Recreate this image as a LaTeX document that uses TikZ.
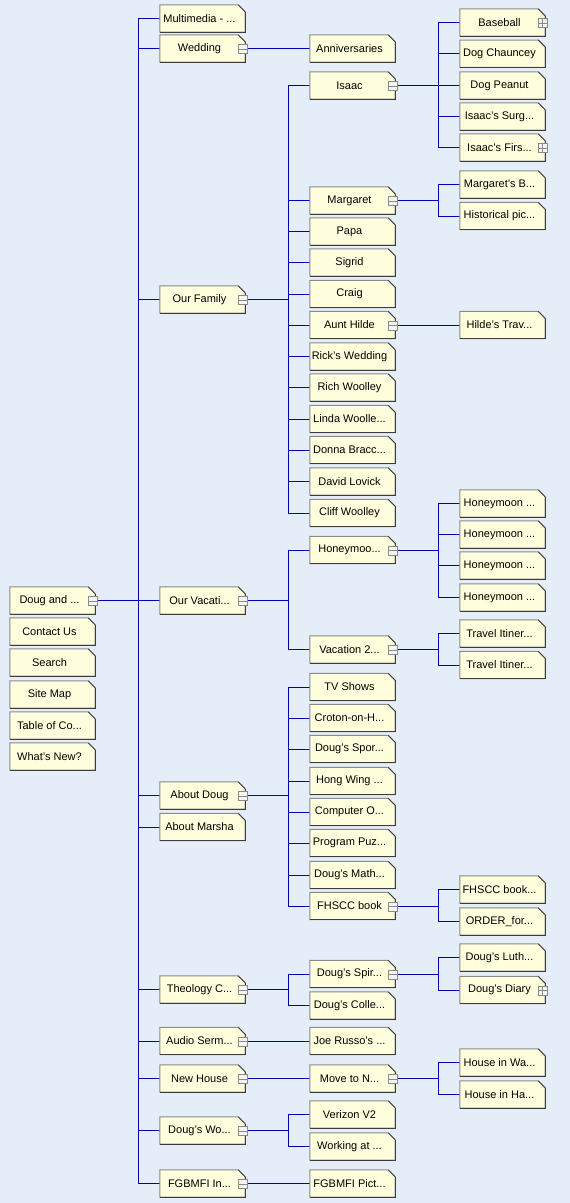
\documentclass[tikz,border=0pt]{standalone}
\usepackage{fontspec}
\setmainfont{Liberation Sans}
\usetikzlibrary{backgrounds}
\definecolor{bg}{HTML}{E5EEF8}
\definecolor{boxfill}{HTML}{FFFFDD}
\definecolor{wirec}{HTML}{0000B4}
\definecolor{edgelt}{HTML}{8A8A8A}
\definecolor{edgedk}{HTML}{3C3C3C}
\begin{document}
\begin{tikzpicture}[x=1pt,y=-1pt,
  page/.style={minimum width=85pt,minimum height=27pt,inner sep=0pt,
    font=\fontsize{11}{13}\selectfont,execute at begin node={\hspace*{-6pt}}},
  wire/.style={draw=wirec,line width=1pt}]
\useasboundingbox (0,0) rectangle (570,1203);
% column 0
\node[page] (d0) at (52.5,600.5) {Doug and ...};
\node[page] (contact) at (52.5,631.5) {Contact Us};
\node[page] (search) at (52.5,662.5) {Search};
\node[page] (sitemap) at (52.5,694.5) {Site Map};
\node[page] (toc) at (52.5,725.5) {Table of Co...};
\node[page] (new) at (52.5,756.5) {What's New?};
% column 1
\node[page] (mm) at (202.5,18.5) {Multimedia - ...};
\node[page] (wed) at (202.5,48.5) {Wedding};
\node[page] (fam) at (202.5,299.5) {Our Family};
\node[page] (vac) at (202.5,600.5) {Our Vacati...};
\node[page] (adoug) at (202.5,795.5) {About Doug};
\node[page] (amar) at (202.5,827) {About Marsha};
\node[page] (theo) at (202.5,989.5) {Theology C...};
\node[page] (audio) at (202.5,1041) {Audio Serm...};
\node[page] (house) at (202.5,1078.5) {New House};
\node[page] (work) at (202.5,1130.5) {Doug's Wo...};
\node[page] (fgb) at (202.5,1183.5) {FGBMFI In...};
% column 2
\node[page] (ann) at (352.5,48.5) {Anniversaries};
\node[page] (isaac) at (352.5,85.5) {Isaac};
\node[page] (marg) at (352.5,200.5) {Margaret};
\node[page] (papa) at (352.5,231.5) {Papa};
\node[page] (sigrid) at (352.5,262.5) {Sigrid};
\node[page] (craig) at (352.5,294) {Craig};
\node[page] (hilde) at (352.5,325) {Aunt Hilde};
\node[page] (rick) at (352.5,356.5) {Rick's Wedding};
\node[page] (rich) at (352.5,387.5) {Rich Woolley};
\node[page] (linda) at (352.5,419) {Linda Woolle...};
\node[page] (donna) at (352.5,450) {Donna Bracc...};
\node[page] (david) at (352.5,481.5) {David Lovick};
\node[page] (cliff) at (352.5,513) {Cliff Woolley};
\node[page] (honey) at (352.5,550) {Honeymoo...};
\node[page] (vac2) at (352.5,649.5) {Vacation 2...};
\node[page] (tv) at (352.5,687) {TV Shows};
\node[page] (croton) at (352.5,718) {Croton-on-H...};
\node[page] (sport) at (352.5,749) {Doug's Spor...};
\node[page] (hong) at (352.5,781) {Hong Wing ...};
\node[page] (comp) at (352.5,812) {Computer O...};
\node[page] (prog) at (352.5,843) {Program Puz...};
\node[page] (math) at (352.5,875) {Doug's Math...};
\node[page] (fhscc) at (352.5,906) {FHSCC book};
\node[page] (spir) at (352.5,974) {Doug's Spir...};
\node[page] (colle) at (352.5,1005.5) {Doug's Colle...};
\node[page] (joe) at (352.5,1041) {Joe Russo's ...};
\node[page] (move) at (352.5,1078.5) {Move to N...};
\node[page] (veri) at (352.5,1114.5) {Verizon V2};
\node[page] (workat) at (352.5,1146.5) {Working at ...};
\node[page] (fgbp) at (352.5,1183.5) {FGBMFI Pict...};
% column 3
\node[page] (base) at (502.5,22.5) {Baseball};
\node[page] (chaun) at (502.5,53.7) {Dog Chauncey};
\node[page] (peanut) at (502.5,85.5) {Dog Peanut};
\node[page] (surg) at (502.5,116.5) {Isaac's Surg...};
\node[page] (firs) at (502.5,147.5) {Isaac's Firs...};
\node[page] (margb) at (502.5,184.5) {Margaret's B...};
\node[page] (hist) at (502.5,216) {Historical pic...};
\node[page] (hildet) at (502.5,325) {Hilde's Trav...};
\node[page] (hm1) at (502.5,503.5) {Honeymoon ...};
\node[page] (hm2) at (502.5,534.5) {Honeymoon ...};
\node[page] (hm3) at (502.5,565.5) {Honeymoon ...};
\node[page] (hm4) at (502.5,597.5) {Honeymoon ...};
\node[page] (ti1) at (502.5,633.5) {Travel Itiner...};
\node[page] (ti2) at (502.5,665) {Travel Itiner...};
\node[page] (fb1) at (502.5,889.5) {FHSCC book...};
\node[page] (ord) at (502.5,921.5) {ORDER\_for...};
\node[page] (luth) at (502.5,957.5) {Doug's Luth...};
\node[page] (diary) at (502.5,990) {Doug's Diary};
\node[page] (hw) at (502.5,1062.5) {House in Wa...};
\node[page] (hh) at (502.5,1094.5) {House in Ha...};
\begin{pgfonlayer}{background}
  \fill[bg] (0,0) rectangle (570,1203);
  % connectors
  \foreach \c in {mm,wed,fam,vac,adoug,amar,theo,audio,house,work,fgb}
    \draw[wire] (d0.east) -- ++(43,0) |- (\c.west);
  \draw[wire] (wed.east) -- (ann.west);
  \foreach \c in {isaac,marg,papa,sigrid,craig,hilde,rick,rich,linda,donna,david,cliff}
    \draw[wire] (fam.east) -- ++(43,0) |- (\c.west);
  \foreach \c in {honey,vac2} \draw[wire] (vac.east) -- ++(43,0) |- (\c.west);
  \foreach \c in {tv,croton,sport,hong,comp,prog,math,fhscc}
    \draw[wire] (adoug.east) -- ++(43,0) |- (\c.west);
  \foreach \c in {spir,colle} \draw[wire] (theo.east) -- ++(43,0) |- (\c.west);
  \draw[wire] (audio.east) -- (joe.west);
  \draw[wire] (house.east) -- (move.west);
  \foreach \c in {veri,workat} \draw[wire] (work.east) -- ++(43,0) |- (\c.west);
  \draw[wire] (fgb.east) -- (fgbp.west);
  \foreach \c in {base,chaun,peanut,surg,firs} \draw[wire] (isaac.east) -- ++(43,0) |- (\c.west);
  \foreach \c in {margb,hist} \draw[wire] (marg.east) -- ++(43,0) |- (\c.west);
  \draw[wire] (hilde.east) -- (hildet.west);
  \foreach \c in {hm1,hm2,hm3,hm4} \draw[wire] (honey.east) -- ++(43,0) |- (\c.west);
  \foreach \c in {ti1,ti2} \draw[wire] (vac2.east) -- ++(43,0) |- (\c.west);
  \foreach \c in {fb1,ord} \draw[wire] (fhscc.east) -- ++(43,0) |- (\c.west);
  \foreach \c in {luth,diary} \draw[wire] (spir.east) -- ++(43,0) |- (\c.west);
  \foreach \c in {hw,hh} \draw[wire] (move.east) -- ++(43,0) |- (\c.west);
  % page boxes
  \foreach \n in {d0,contact,search,sitemap,toc,new,
      mm,wed,fam,vac,adoug,amar,theo,audio,house,work,fgb,
      ann,isaac,marg,papa,sigrid,craig,hilde,rick,rich,linda,donna,david,cliff,
      honey,vac2,tv,croton,sport,hong,comp,prog,math,fhscc,spir,colle,joe,move,veri,workat,fgbp,
      base,chaun,peanut,surg,firs,margb,hist,hildet,hm1,hm2,hm3,hm4,ti1,ti2,fb1,ord,luth,diary,hw,hh}{
    \fill[boxfill,draw=edgelt,line width=1pt] (\n.south west) -- (\n.north west)
      -- ([xshift=-7pt]\n.north east) -- ([yshift=-7pt]\n.north east)
      -- (\n.south east) -- cycle;
    \draw[edgedk,line width=1.2pt] ([yshift=-7pt]\n.north east) -- (\n.south east) -- (\n.south west);
    \draw[edgedk,line width=0.8pt] ([xshift=-7pt]\n.north east) -- ([yshift=-7pt]\n.north east);
  }
\end{pgfonlayer}
% expand / collapse icons
\foreach \n in {d0,wed,fam,vac,adoug,theo,audio,house,work,fgb,isaac,marg,hilde,honey,vac2,fhscc,spir,move}{
  \draw[edgelt,fill=white!92!gray,line width=0.9pt] ([xshift=-7pt,yshift=-5pt]\n.east) rectangle ([xshift=2pt,yshift=4pt]\n.east);
  \draw[edgelt,line width=0.9pt] ([xshift=-7pt,yshift=-0.5pt]\n.east) -- ([xshift=2pt,yshift=-0.5pt]\n.east);
}
\foreach \n in {base,firs,diary}{
  \draw[edgelt,fill=white!92!gray,line width=0.9pt] ([xshift=-7pt,yshift=-5pt]\n.east) rectangle ([xshift=2pt,yshift=4pt]\n.east);
  \draw[edgelt,line width=0.9pt] ([xshift=-7pt,yshift=-0.5pt]\n.east) -- ([xshift=2pt,yshift=-0.5pt]\n.east);
  \draw[edgelt,line width=0.9pt] ([xshift=-2.5pt,yshift=-5pt]\n.east) -- ([xshift=-2.5pt,yshift=4pt]\n.east);
}
\end{tikzpicture}
\end{document}
